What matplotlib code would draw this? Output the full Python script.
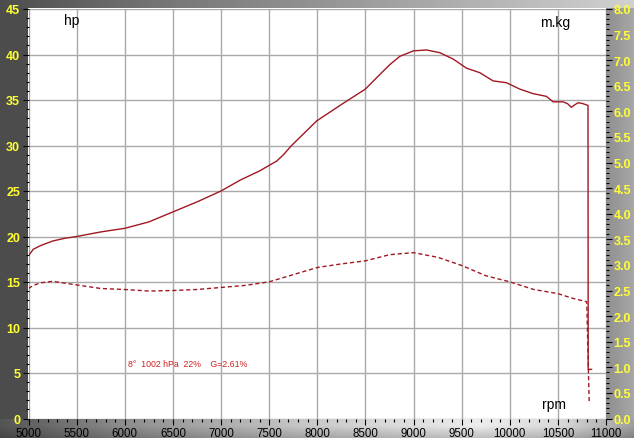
import numpy as np
import matplotlib
matplotlib.use("Agg")
import matplotlib.pyplot as plt
from matplotlib.ticker import MultipleLocator, FormatStrFormatter

# ---------------- data ----------------
rpm_hp = [5000, 5050, 5125, 5250, 5375, 5500, 5750, 6000, 6250, 6500, 6750,
          7000, 7200, 7400, 7580, 7650, 7733, 7994, 8250, 8500, 8650, 8755,
          8858, 9000, 9135, 9273, 9412, 9550, 9689, 9827, 9965, 10104, 10242,
          10381, 10450, 10554, 10600, 10640, 10680, 10710, 10760, 10813,
          10815, 10850]
hp = [17.9, 18.6, 19.0, 19.5, 19.8, 20.0, 20.5, 20.9, 21.6, 22.7, 23.8,
      25.0, 26.2, 27.2, 28.3, 29.0, 30.0, 32.7, 34.5, 36.2, 37.8, 38.9,
      39.8, 40.4, 40.5, 40.2, 39.5, 38.5, 38.0, 37.1, 36.9, 36.2, 35.7,
      35.4, 34.8, 34.8, 34.6, 34.2, 34.5, 34.7, 34.6, 34.4,
      5.4, 5.4]

rpm_tq = [5000, 5050, 5125, 5250, 5500, 5750, 6000, 6250, 6500, 6750, 7000,
          7250, 7500, 7750, 8000, 8250, 8500, 8750, 9000, 9250, 9500, 9750,
          10000, 10250, 10500, 10650, 10800, 10825]
torque = [2.54, 2.60, 2.65, 2.68, 2.61, 2.54, 2.52, 2.49, 2.50, 2.52, 2.56,
          2.60, 2.67, 2.81, 2.95, 3.02, 3.08, 3.20, 3.24, 3.15, 2.99, 2.79,
          2.67, 2.52, 2.44, 2.35, 2.28, 0.34]

x_ticks = [5000, 5500, 6000, 6500, 7000, 7500, 8000, 8500, 9000, 9500,
           10000, 10500, 11000]
note = "8°  1002 hPa  22%    G=2.61%"

# ---------------- figure ----------------
W, H = 634, 439
fig = plt.figure(figsize=(W / 100, H / 100), dpi=100)

# background panels
img = np.ones((H, W, 3))
cols = np.arange(W)
rows = np.arange(H)
left_w, right_x, top_h, bot_y = 28, 606, 9, 420
img[:, :left_w] = 0.30
rg = np.interp(cols[right_x:], [right_x, W], [0.56, 0.66])
img[:, right_x:] = rg[None, :, None]
tg = np.interp(cols, [0, 150, 634], [0.30, 0.45, 0.82])
img[:top_h, :] = tg[None, :, None]
bg = np.interp(cols, [0, 120, 300, 480, 560, 634], [0.33, 0.55, 0.78, 0.93, 0.85, 0.62])
vf = np.interp(rows[bot_y:], [bot_y, bot_y + 6, H], [1.0, 1.0, 0.8])
img[bot_y:, :] = (vf[:, None] * bg[None, :])[:, :, None]
bgax = fig.add_axes([0, 0, 1, 1])
bgax.imshow(img, aspect="auto", extent=[0, 1, 0, 1], interpolation="bilinear")
bgax.set_axis_off()

ax_l = 28.5 / W
ax_r = 606 / W
ax_b = (H - 419.5) / H
ax_t = (H - 10) / H
ax = fig.add_axes([ax_l, ax_b, ax_r - ax_l, ax_t - ax_b])
ax.set_facecolor("white")
ax.set_xlim(5000, 11000)
ax.set_ylim(0, 45)

font = "Liberation Sans"
grid_c = "#a9a9a9"
ax.xaxis.set_major_locator(MultipleLocator(500))
ax.xaxis.set_minor_locator(MultipleLocator(100))
ax.yaxis.set_major_locator(MultipleLocator(5))
ax.yaxis.set_minor_locator(MultipleLocator(1))
ax.set_xticks(x_ticks)
ax.grid(True, which="major", color=grid_c, lw=1.0)
for s in ax.spines.values():
    s.set_visible(False)
ax.tick_params(axis="x", which="major", direction="out", length=4.5, width=0.8,
               color="black", pad=1.5)
ax.tick_params(axis="x", which="minor", direction="out", length=2.5, width=0.8,
               color="black")
ax.tick_params(axis="y", which="major", direction="out", length=4.5, width=0.8,
               color="black", pad=1.5)
ax.tick_params(axis="y", which="minor", direction="out", length=2.5, width=0.8,
               color="black")
for lab in ax.get_xticklabels():
    lab.set_family(font)
    lab.set_fontsize(8.3)
    lab.set_color("black")
for lab in ax.get_yticklabels():
    lab.set_family(font)
    lab.set_fontsize(9)
    lab.set_fontweight("bold")
    lab.set_color("#ffff33")

line_c = "#a01822"
ax.plot(rpm_hp, hp, color=line_c, lw=1.0, solid_joinstyle="round", zorder=3)

ax2 = ax.twinx()
ax2.set_ylim(0, 8)
ax2.yaxis.set_major_locator(MultipleLocator(0.5))
ax2.yaxis.set_minor_locator(MultipleLocator(0.1))
ax2.yaxis.set_major_formatter(FormatStrFormatter("%.1f"))
for s in ax2.spines.values():
    s.set_visible(False)
ax2.tick_params(axis="y", which="major", direction="out", length=4.5, width=0.8,
                color="black", pad=1.0)
ax2.tick_params(axis="y", which="minor", direction="out", length=2.5, width=0.8,
                color="black")
for lab in ax2.get_yticklabels():
    lab.set_family(font)
    lab.set_fontsize(9)
    lab.set_fontweight("bold")
    lab.set_color("#ffff33")
tl, = ax2.plot(rpm_tq, torque, color=line_c, lw=1.0, zorder=3)
tl.set_dashes([3, 2])

ax.text(0.074, 0.972, "hp", transform=ax.transAxes, ha="center", va="center",
        fontsize=10, family=font, color="black")
ax.text(0.912, 0.968, "m.kg", transform=ax.transAxes, ha="center", va="center",
        fontsize=10, family=font, color="black")
ax.text(0.910, 0.035, "rpm", transform=ax.transAxes, ha="center", va="center",
        fontsize=10, family=font, color="black")
ax.text(0.172, 0.1355, note, transform=ax.transAxes, ha="left", va="center",
        fontsize=6.3, family=font, color="#cc2222")

fig.savefig("out.png", dpi=100)
